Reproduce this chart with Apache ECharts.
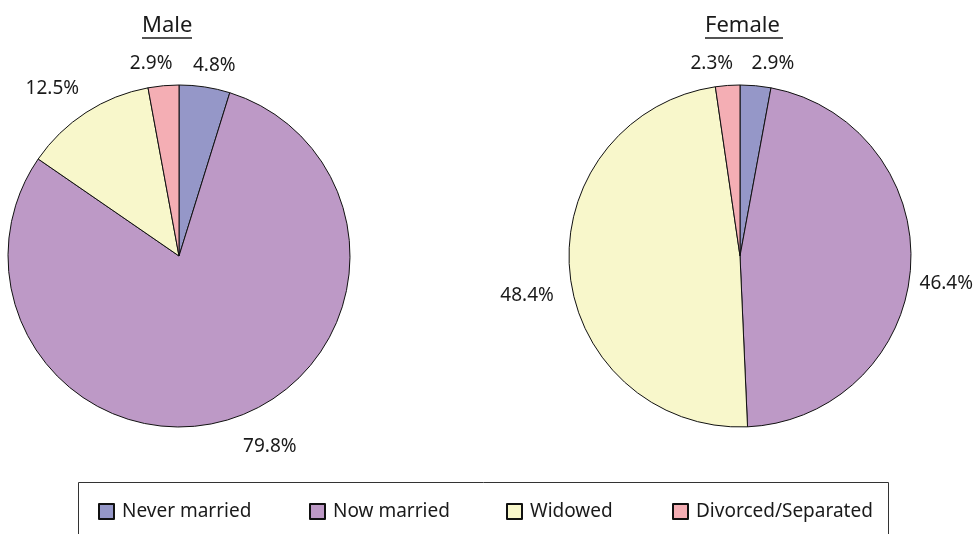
<!DOCTYPE html>
<html>
<head>
<meta charset="utf-8">
<script src="https://cdn.jsdelivr.net/npm/echarts@6/dist/echarts.min.js"></script>
<style>
  html, body { margin: 0; padding: 0; background: #fff; }
  #box { width: 978px; height: 534px; }
</style>
</head>
<body>
<div id="box"></div>
<script>
var categories = ['Never married', 'Now married', 'Widowed', 'Divorced/Separated']
var colors = ['#9597C8', '#BD99C6', '#F8F7CB', '#F4AEB4']
var male = [4.8, 79.8, 12.5, 2.9]
var female = [2.9, 46.4, 48.4, 2.3]
var font = 'Noto Sans'

// small nudges so the % labels sit where the original put them
var maleNudge = [[-20, 0], [-4, 8], [10, -5], [16, 0]]
var femaleNudge = [[-11, 0], [-18, 14], [11, 21], [12, 0]]

function toData(values) {
  return values.map((v, i) => {
    return { name: categories[i], value: v, itemStyle: { color: colors[i] } }
  })
}

function pie(center, values, nudge) {
  return {
    type: 'pie',
    center: center,
    radius: 171,
    startAngle: 90,
    clockwise: true,
    animation: false,
    silent: true,
    itemStyle: { borderColor: '#111', borderWidth: 1 },
    label: {
      show: true,
      position: 'outside',
      formatter: '{c}%',
      color: '#1a1a1a',
      fontFamily: font,
      fontSize: 19,
      overflow: 'none',
      bleedMargin: 0
    },
    labelLine: { show: false, length: 22, length2: 0 },
    labelLayout: function(p) {
      var n = nudge[p.dataIndex]
      return { dx: n[0], dy: n[1] }
    },
    data: toData(values)
  }
}

// legend slots are uneven in the picture, so one legend per item
var legendLeft = [98, 309, 506, 672]
var legends = categories.map((name, i) => {
  return {
    left: legendLeft[i],
    top: 502,
    icon: 'rect',
    itemWidth: 15,
    itemHeight: 15,
    itemGap: 0,
    padding: 0,
    selectedMode: false,
    textStyle: { fontFamily: font, fontSize: 19, color: '#1a1a1a', padding: [0, 0, 0, 3] },
    data: [name]
  }
})

function title(x, text, w) {
  return [
    {
      type: 'text',
      left: x - w / 2,
      top: 15,
      style: { text: text, font: '22px "' + font + '"', fill: '#1a1a1a' }
    },
    {
      type: 'line',
      shape: { x1: x - w / 2, y1: 38, x2: x + w / 2, y2: 38 },
      style: { stroke: '#1a1a1a', lineWidth: 1.6 }
    }
  ]
}

var option = {
  backgroundColor: '#fff',
  legend: legends,
  graphic: [
    {
      type: 'rect',
      shape: { x: 78.5, y: 482.5, width: 810, height: 80 },
      style: { fill: 'none', stroke: '#333', lineWidth: 1 }
    }
  ].concat(title(167, 'Male', 50)).concat(title(744, 'Female', 78)),
  series: [pie([179, 256], male, maleNudge), pie([740, 256], female, femaleNudge)]
}

var chart = echarts.init(document.getElementById('box'))
chart.setOption(option)
</script>
</body>
</html>
